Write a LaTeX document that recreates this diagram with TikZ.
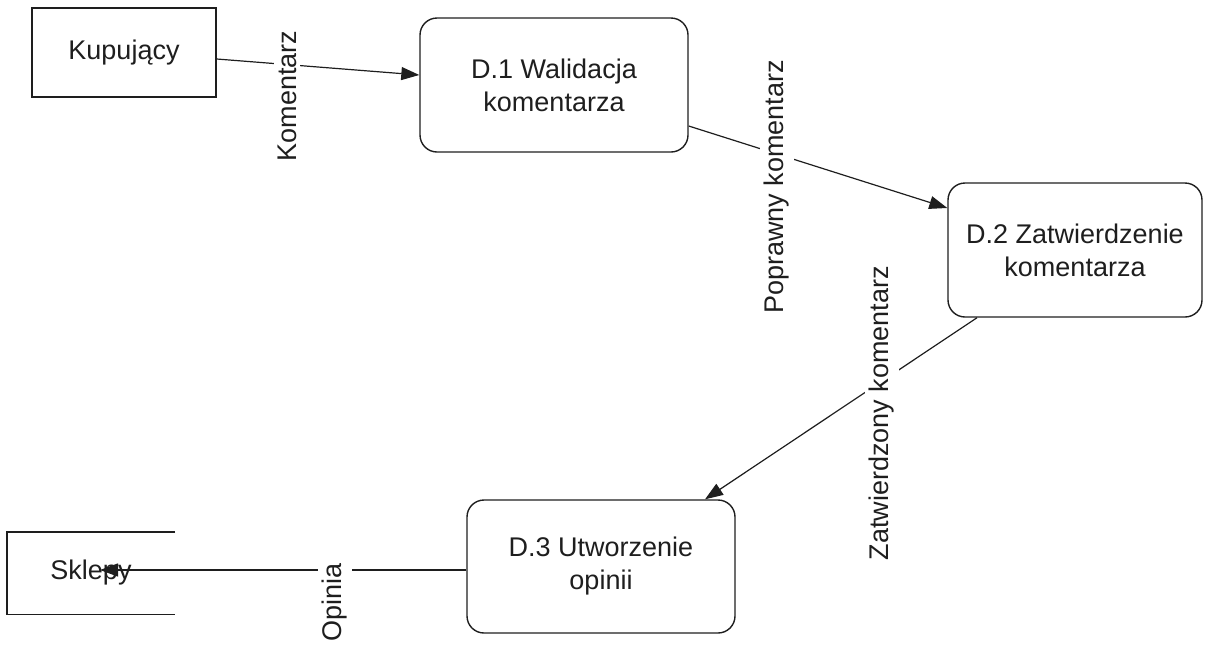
\documentclass[tikz,border=0pt]{standalone}
\usepackage{fontspec}
\setmainfont{Liberation Sans}
\usepackage{xcolor}
\definecolor{lnc}{RGB}{30,30,30}
\usepackage{tikz}
\usetikzlibrary{arrows.meta,shapes,positioning,calc}

\begin{document}
\begin{tikzpicture}[
  x=1pt,y=-1pt,
  every node/.style={font=\fontsize{27}{33}\selectfont,text=lnc},
  ebox/.style={rectangle,draw=lnc,line width=1.4pt,minimum width=184pt,minimum height=89pt},
  pbox/.style={rectangle,draw=lnc,line width=1.4pt,rounded corners=17pt,align=center,minimum width=268pt,minimum height=134pt},
  sbox/.style={rectangle,minimum width=168pt,minimum height=82pt},
  flow/.style={-{Triangle[length=18pt,width=13pt]},line width=1.2pt,lnc},
  lbl/.style={rotate=90,fill=white,inner sep=4pt}
]
  \useasboundingbox (0,0) rectangle (1209,646);

  % Entities
  \node[ebox] (kup) at (124,52.5) {Kupujący};
  \node[sbox] (sklep) at (91,573) {Sklepy};
  \draw[line width=1.4pt,lnc] (sklep.north east) -- (sklep.north west) -- (sklep.south west) -- (sklep.south east);

  % Processes
  \node[pbox] (d1) at (554,85) {D.1 Walidacja\\komentarza};
  \node[pbox,minimum width=254pt] (d2) at (1075,250) {D.2 Zatwierdzenie\\komentarza};
  \node[pbox,minimum height=133pt] (d3) at (601,566.5) {D.3 Utworzenie\\opinii};
  \coordinate (opend) at (100,570);

  % Arrows
  \draw[flow] ([yshift=-6.5pt]kup.east) -- ([yshift=10pt]d1.west);
  \draw[flow] ([yshift=-41pt]d1.east) -- ([yshift=42pt]d2.west);
  \draw[flow] ([xshift=-98pt]d2.south) -- ([xshift=104pt]d3.north);
  \draw[flow] ([yshift=-3.5pt]d3.west) -- (opend);

  % Labels
  \node[lbl] (lkom) at (287,96) {Komentarz};
  \node[lbl] (lpop) at (777,187) {Poprawny komentarz};
  \node[lbl] (lzat) at (882,413) {Zatwierdzony komentarz};
  \node[lbl] (lopi) at (335,602) {Opinia};
\end{tikzpicture}
\end{document}
